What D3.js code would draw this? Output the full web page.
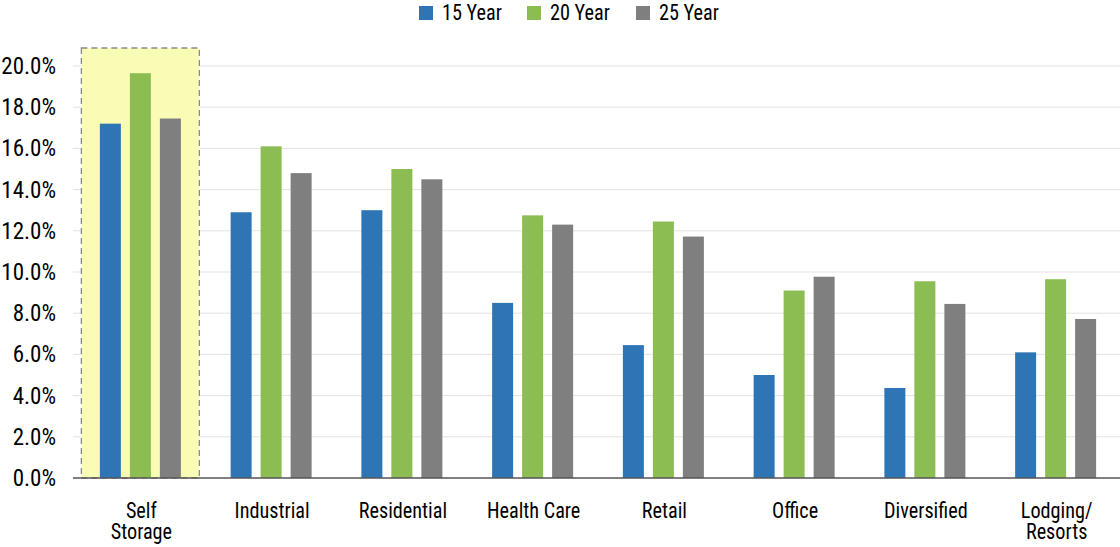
<!DOCTYPE html>
<html>
<head>
<meta charset="utf-8">
<script src="https://cdn.jsdelivr.net/npm/d3@7"></script>
<style>
  body { margin: 0; background: #fff; }
  text { font-family: "Roboto Condensed", "Liberation Sans Narrow", "DejaVu Sans Condensed", "Roboto", sans-serif; fill: #000; font-weight: 400; }
</style>
</head>
<body>
<svg width="1120" height="547"></svg>
<script>
var categories = ['Self Storage', 'Industrial', 'Residential', 'Health Care', 'Retail', 'Office', 'Diversified', 'Lodging/ Resorts'];
var seriesNames = ['15 Year', '20 Year', '25 Year'];
var year15 = [17.2, 12.9, 13.0, 8.5, 6.45, 5.0, 4.37, 6.1];
var year20 = [19.65, 16.1, 15.0, 12.75, 12.45, 9.1, 9.55, 9.65];
var year25 = [17.45, 14.8, 14.5, 12.3, 11.72, 9.77, 8.45, 7.72];
var yTicks = [0, 2, 4, 6, 8, 10, 12, 14, 16, 18, 20];
var colors = ['#2e75b6', '#8cbd52', '#7f7f7f'];

var series = [year15, year20, year25];
var squeeze = 'scale(0.92,1)';

var svg = d3.select('svg');

var x = d3.scaleBand()
    .domain(categories)
    .range([75, 1121]);

// 3 bars, 21px wide, 30px apart
var x1 = d3.scaleBand()
    .domain(seriesNames)
    .range([0, 81])
    .paddingInner(0.3);

var y = d3.scaleLinear()
    .domain([0, 20])
    .range([478, 66]);

// gridlines
svg.append('g')
    .selectAll('line')
    .data(yTicks.slice(1))
    .enter().append('line')
    .attr('x1', 73)
    .attr('x2', 1120)
    .attr('y1', d => y(d))
    .attr('y2', d => y(d))
    .attr('stroke', '#e3e3e3')
    .attr('stroke-width', 1);

// highlight box for Self Storage
svg.append('rect')
    .attr('x', x('Self Storage') + x.bandwidth() / 2 - 59)
    .attr('y', 48)
    .attr('width', 118)
    .attr('height', y(0) - 48)
    .attr('fill', '#f8fcb4')
    .attr('stroke', '#8a8a8a')
    .attr('stroke-width', 1.3)
    .attr('stroke-dasharray', '6,4');

// bars
var groups = svg.append('g')
    .selectAll('g')
    .data(categories)
    .enter().append('g')
    .attr('transform', d => 'translate(' + (x(d) + x.bandwidth() / 2 - 40.5) + ',0)');

groups.selectAll('rect')
    .data((d, i) => seriesNames.map((s, j) => ({ key: s, value: series[j][i], c: colors[j] })))
    .enter().append('rect')
    .attr('x', d => x1(d.key))
    .attr('width', x1.bandwidth())
    .attr('y', d => y(d.value))
    .attr('height', d => y(0) - y(d.value))
    .attr('fill', d => d.c);

// axis line
svg.append('line')
    .attr('x1', 73)
    .attr('x2', 1120)
    .attr('y1', y(0))
    .attr('y2', y(0))
    .attr('stroke', '#555')
    .attr('stroke-width', 1.3);

// y labels
svg.append('g')
    .selectAll('text')
    .data(yTicks)
    .enter().append('text')
    .attr('x', 56)
    .attr('y', d => y(d) + 8)
    .attr('text-anchor', 'end')
    .attr('font-size', 23)
    .text(d => d.toFixed(1) + '%');

// x labels
var xl = svg.append('g')
    .selectAll('text')
    .data(categories)
    .enter().append('text')
    .attr('text-anchor', 'middle')
    .attr('font-size', 22)
    .attr('transform', d => 'translate(' + (x(d) + x.bandwidth() / 2 + 1) + ',518) ' + squeeze);

xl.selectAll('tspan')
    .data(d => (d === 'Self Storage' || d.indexOf('/') > 0) ? d.split(' ') : [d])
    .enter().append('tspan')
    .attr('x', 0)
    .attr('y', (d, i) => i * 21)
    .text(d => d);

// legend
var legendX = [419, 527, 636];
var leg = svg.append('g')
    .selectAll('g')
    .data(seriesNames)
    .enter().append('g')
    .attr('transform', (d, i) => 'translate(' + legendX[i] + ',0)');

leg.append('rect')
    .attr('x', 0)
    .attr('y', 6)
    .attr('width', 14)
    .attr('height', 14)
    .attr('fill', (d, i) => colors[i]);

leg.append('text')
    .attr('transform', 'translate(23,20) ' + squeeze)
    .attr('font-size', 22)
    .text(d => d);
</script>
</body>
</html>
